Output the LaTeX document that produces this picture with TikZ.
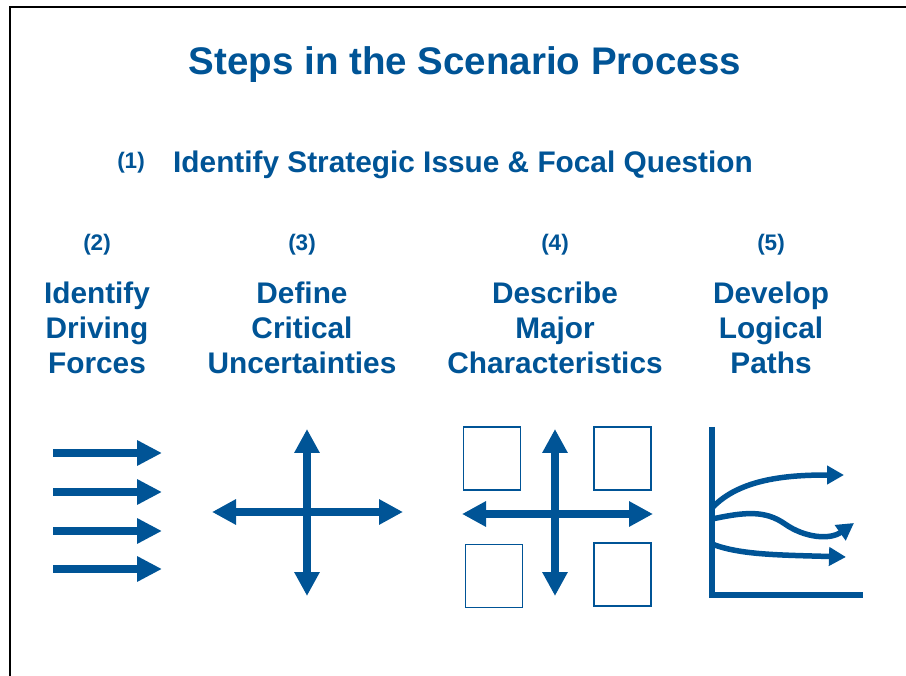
\documentclass[tikz,border=0pt]{standalone}
\usepackage{fontspec}
\setmainfont{Liberation Sans}
\usetikzlibrary{arrows.meta, positioning}
\definecolor{scnblue}{RGB}{0,84,150}

\begin{document}
\begin{tikzpicture}[x=1pt, y=-1pt]
		\tikzset{
			heading/.style={font=\fontsize{38.5}{46}\selectfont\bfseries, text=scnblue, inner sep=0pt},
			stepnum/.style={font=\fontsize{22.5}{27}\selectfont\bfseries, text=scnblue, inner sep=0pt},
			steptext/.style={font=\fontsize{29.8}{35}\selectfont\bfseries, text=scnblue, inner sep=0pt, align=center},
			force/.style={-{Triangle[length=25pt, width=24pt]}, line width=8pt, draw=scnblue},
			twoway/.style={{Triangle[length=24pt, width=24pt]}-{Triangle[length=24pt, width=24pt]}, line width=8pt, draw=scnblue},
			quadbox/.style={rectangle, draw=scnblue, line width=1.3pt, minimum width=57pt, minimum height=63pt, inner sep=0pt},
			graphaxis/.style={line width=5.5pt, draw=scnblue, line join=miter},
			trend/.style={-{Triangle[length=17pt, width=18pt]}, line width=5.5pt, draw=scnblue}
		}
		\useasboundingbox (0,0) rectangle (906,676);
		\draw[line width=2pt] (10,676) -- (10,7) -- (906,7);

		\node[heading, anchor=base] (title) at (465,75) {Steps in the Scenario Process};

		\node[stepnum, anchor=base] (n1) at (131,169) {(1)};
		\node[steptext, anchor=base west] (issue) at (173,173) {Identify Strategic Issue \& Focal Question};

		\node[stepnum, anchor=base] (n2) at (97,251) {(2)};
		\node[stepnum, anchor=base] (n3) at (302,251) {(3)};
		\node[stepnum, anchor=base] (n4) at (555,251) {(4)};
		\node[stepnum, anchor=base] (n5) at (771,251) {(5)};

		\node[steptext, below=26pt of n2] (forces) {Identify\\Driving\\Forces};
		\node[steptext, below=26pt of n3] (uncertain) {Define\\Critical\\Uncertainties};
		\node[steptext, below=26pt of n4] (traits) {Describe\\Major\\Characteristics};
		\node[steptext, below=26pt of n5] (paths) {Develop\\Logical\\Paths};

		% driving forces
		\draw[force] (53,453) -- (162,453);
		\draw[force] (53,492) -- (162,492);
		\draw[force] (53,531) -- (162,531);
		\draw[force] (53,569) -- (162,569);

		% uncertainty cross
		\draw[twoway] (212,512) -- (403,512);
		\draw[twoway] (307,429) -- (307,596);

		% scenario quadrants
		\node[quadbox] (q1) at (492,458.5) {};
		\node[quadbox] (q2) at (622.5,458.5) {};
		\node[quadbox] (q3) at (494,576) {};
		\node[quadbox] (q4) at (622.5,574.5) {};
		\draw[twoway] (462,514) -- (653,514);
		\draw[twoway] (555,429) -- (555,596);

		% logical paths
		\draw[graphaxis] (712,427) -- (712,595) -- (863,595);
		\draw[trend] (712,508) .. controls (740,478) and (790,475) .. (844,475);
		\draw[trend] (712,519) .. controls (745,512) and (765,510) .. (785,524) .. controls (805,538) and (830,540) .. (854,523);
		\draw[trend] (712,544) .. controls (740,555) and (780,555) .. (846,557);
	\end{tikzpicture}
\end{document}
